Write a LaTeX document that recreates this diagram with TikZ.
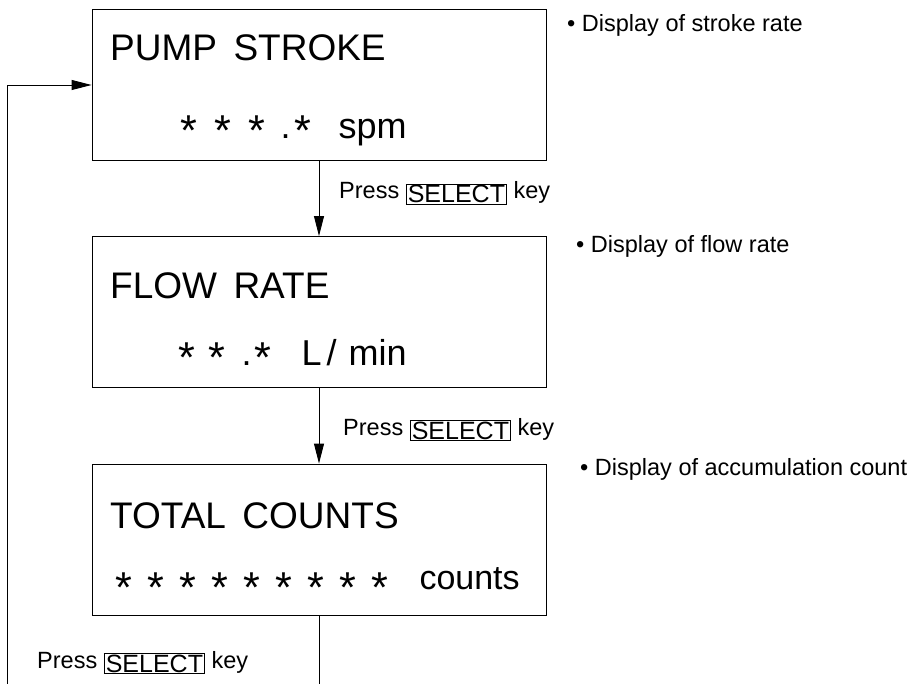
\documentclass[tikz,border=0pt]{standalone}
\usepackage{fontspec}
\setmainfont{Liberation Sans}
\usetikzlibrary{arrows.meta}
\newcommand{\selkey}[1]{\raisebox{-4pt}{\fboxsep=1.2pt\fboxrule=0.8pt\fbox{\fontsize{25}{28}\selectfont#1}}}
\newcommand{\lcdstar}[1][6.5pt]{\raisebox{-#1}{\scalebox{1.2}{*}}}

\begin{document}
\begin{tikzpicture}[x=1pt,y=-1pt,
    lcdbox/.style={draw,line width=0.9pt,minimum width=454pt,minimum height=151pt},
    lcdtop/.style={anchor=base west,inner sep=0pt,font=\fontsize{37}{40}\selectfont},
    lcdval/.style={anchor=base west,inner sep=0pt,font=\fontsize{36}{40}\selectfont},
    note/.style={anchor=base west,inner sep=0pt,font=\fontsize{23.5}{26}\selectfont},
    link/.style={line width=0.9pt,-{Triangle[length=20pt,width=10pt]}}]
    \useasboundingbox (0,0) rectangle (918,684);

    % display screens
    \node[lcdbox] (pump) at (319,85) {};
    \node[lcdbox] (flow) at (319,312) {};
    \node[lcdbox] (total) at (319,539.5) {};

    \node[lcdtop] (pumptitle) at (110,61) {PUMP\, STROKE};
    \node[lcdval] (pumpval) at (180.7,139) {\lcdstar\hspace{17.2pt}\lcdstar\hspace{17.2pt}\lcdstar\hspace{15pt}.\hspace{4pt}\lcdstar\hspace{27pt}spm};
    \node[lcdtop] (flowtitle) at (110,299) {FLOW\, RATE};
    \node[lcdval] (flowval) at (178.7,366) {\lcdstar\hspace{13.2pt}\lcdstar\hspace{16pt}.\hspace{3pt}\lcdstar\hspace{30pt}L\hspace{5pt}/\hspace{12pt}min};
    \node[lcdtop] (totaltitle) at (110,528) {TOTAL\, COUNTS};
    \node[lcdval] (totalval) at (115.4,589) {\lcdstar[13pt]\foreach \k in {1,...,8}{\hspace{15.2pt}\lcdstar[13pt]}\hspace{31pt}{\fontsize{34}{40}\selectfont counts}};

    % side notes
    \node[note] (pumpnote) at (567,32) {\textbullet\ Display of stroke rate};
    \node[note] (flownote) at (576,253) {\textbullet\ Display of flow rate};
    \node[note] (totalnote) at (580,475) {\textbullet\ Display of accumulation count};

    % key presses
    \node[note] (pumppress) at (339,199) {Press \selkey{SELECT} key};
    \node[note] (flowpress) at (343,435) {Press \selkey{SELECT} key};
    \node[note] (totalpress) at (37,668) {Press \selkey{SELECT} key};

    \coordinate (totalout) at (319,684);
    \coordinate (loopstart) at (7,684);
    \draw[link] (pump) -- (flow);
    \draw[link] (flow) -- (total);
    \draw[line width=0.9pt] (total.south) -- (totalout);
    \draw[link] (loopstart) |- (pump.west);
\end{tikzpicture}
\end{document}
